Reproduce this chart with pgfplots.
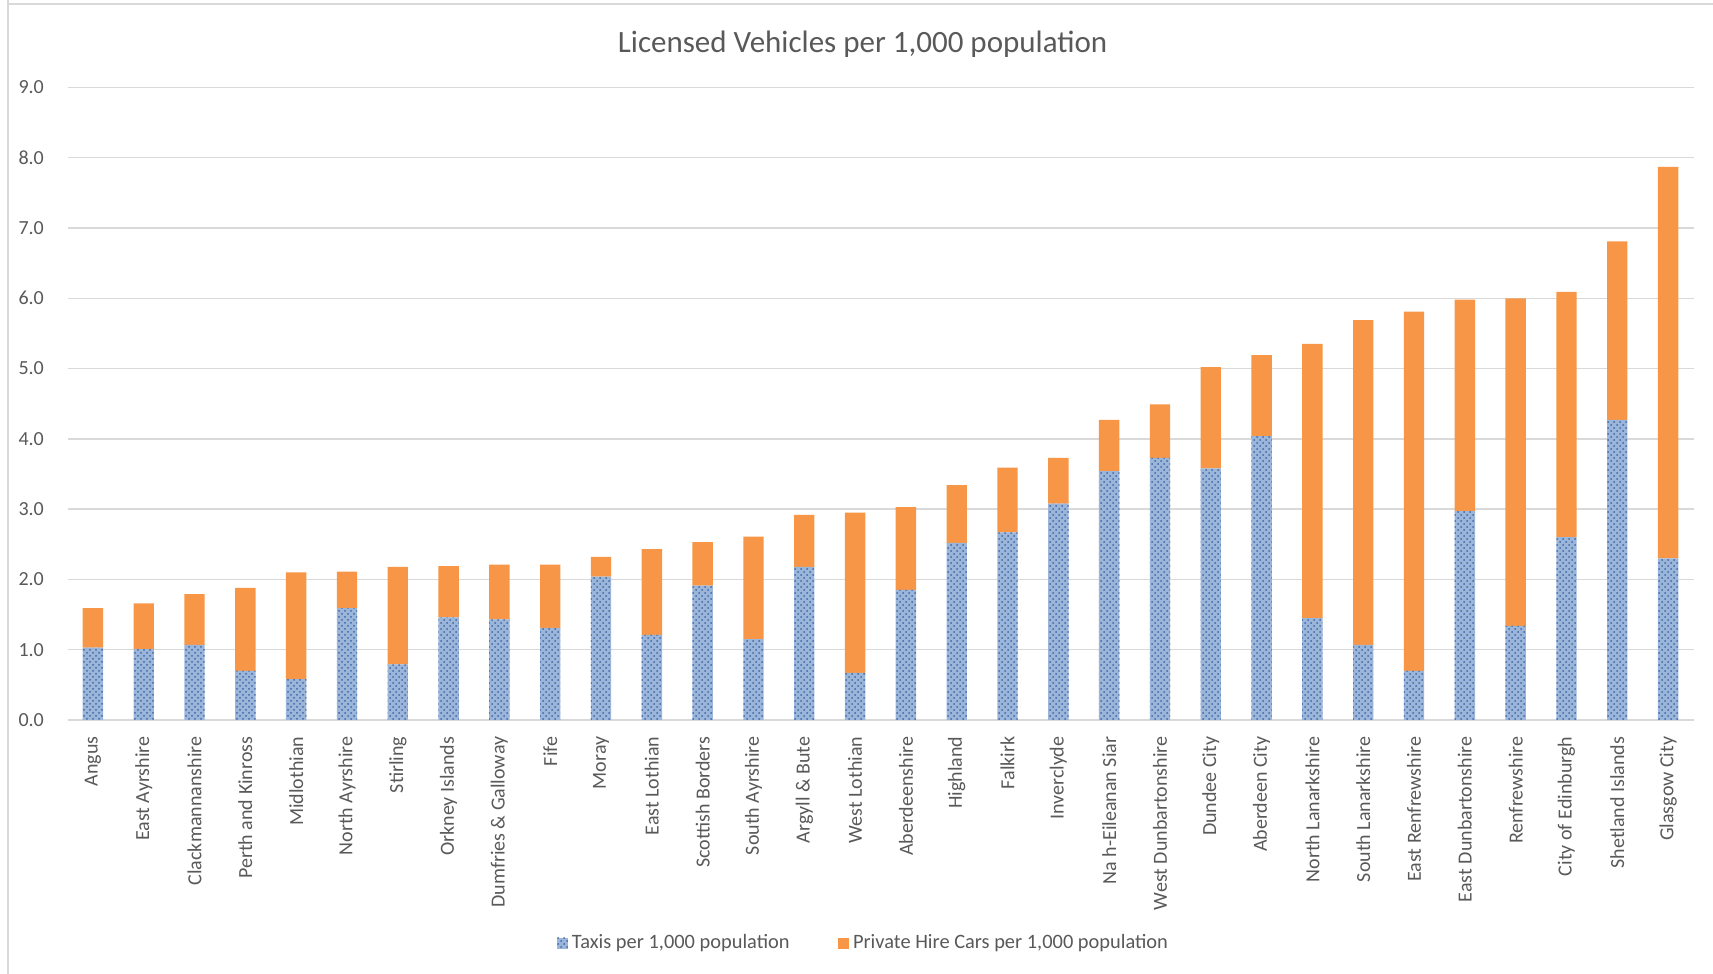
\documentclass[border=0pt]{standalone}
\usepackage{fontspec}
\setmainfont{Carlito}
\usepackage{pgfplots}
\usepackage{pgfplotstable}
\pgfplotsset{compat=1.18}
\usetikzlibrary{patterns}

\definecolor{txt}{HTML}{595959}
\definecolor{gridc}{HTML}{D9D9D9}
\definecolor{hire}{HTML}{F79646}
\definecolor{taxibg}{HTML}{9CB6DA}
\definecolor{taxidot}{HTML}{3F68A8}

% Licensed vehicles per 1,000 population, by council area
% x = position, taxi = taxis, hire = private hire cars
\pgfplotstableread{
x  taxi  hire
0  1.03  0.56
1  1.01  0.65
2  1.07  0.72
3  0.70  1.18
4  0.58  1.52
5  1.59  0.52
6  0.79  1.39
7  1.46  0.73
8  1.43  0.78
9  1.31  0.90
10 2.04  0.28
11 1.21  1.22
12 1.91  0.62
13 1.15  1.46
14 2.18  0.74
15 0.67  2.28
16 1.85  1.18
17 2.52  0.82
18 2.67  0.92
19 3.08  0.65
20 3.54  0.73
21 3.73  0.76
22 3.58  1.44
23 4.04  1.15
24 1.45  3.90
25 1.07  4.62
26 0.70  5.11
27 2.97  3.01
28 1.34  4.66
29 2.60  3.49
30 4.27  2.54
31 2.30  5.57
}\vehicles

\begin{document}
\begin{tikzpicture}
\path[use as bounding box] (0,0) rectangle (856.5pt,487pt);
% chart area frame (top and left edges)
\draw[gridc, line width=1pt] (4pt,487pt) -- (4pt,485pt) -- (856.5pt,485pt);
\draw[gridc, line width=1pt] (4pt,485pt) -- (4pt,0pt);

\begin{axis}[
  at={(33.75pt,127pt)}, anchor=south west,
  scale only axis,
  width=813pt, height=316.3pt,
  ybar stacked, bar width=10.2pt,
  xmin=-0.5, xmax=31.5,
  ymin=0, ymax=9,
  ytick={0,1,...,9},
  xtick=data,
  xticklabels={Angus, East Ayrshire, Clackmannanshire, Perth and Kinross,
    Midlothian, North Ayrshire, Stirling, Orkney Islands,
    {Dumfries \& Galloway}, Fife, Moray, East Lothian, Scottish Borders,
    South Ayrshire, {Argyll \& Bute}, West Lothian, Aberdeenshire, Highland,
    Falkirk, Inverclyde, Na h-Eileanan Siar, West Dunbartonshire,
    Dundee City, Aberdeen City, North Lanarkshire, South Lanarkshire,
    East Renfrewshire, East Dunbartonshire, Renfrewshire,
    City of Edinburgh, Shetland Islands, Glasgow City},
  axis lines=left,
  axis line style={draw=none},
  tick style={draw=none},
  ymajorgrids,
  grid style={gridc, line width=0.75pt},
  /pgf/number format/assume math mode=true,
  yticklabel style={/pgf/number format/fixed,
    /pgf/number format/fixed zerofill,
    /pgf/number format/precision=1},
  every tick label/.append style={font=\fontsize{10}{12}\selectfont, text=txt},
  yticklabel style={anchor=east, inner sep=0pt},
  yticklabel shift=9.5pt,
  xticklabel style={rotate=90, anchor=east, inner sep=0pt},
  xticklabel shift=6pt,
  title={Licensed Vehicles per 1,000 population},
  title style={at={(0.489,1.0487)}, anchor=center,
    font=\fontsize{15.5}{18}\selectfont, text=txt},
  legend style={at={(0.49,-0.353)}, anchor=center, draw=none,
    font=\fontsize{10.2}{12}\selectfont, text=txt,
    /tikz/every even column/.append style={column sep=22pt}},
  legend columns=2,
  legend image code/.code={
    \draw[#1, draw=none] (0cm,-0.1cm) rectangle (0.2cm,0.1cm);
  },
]
\addplot[draw=none, fill=taxibg,
  postaction={pattern=crosshatch dots, pattern color=taxidot}]
  table[x=x, y=taxi] {\vehicles};
\addlegendentry{Taxis per 1,000 population}
\addplot[draw=none, fill=hire] table[x=x, y=hire] {\vehicles};
\addlegendentry{Private Hire Cars per 1,000 population}
\end{axis}
\end{tikzpicture}
\end{document}
